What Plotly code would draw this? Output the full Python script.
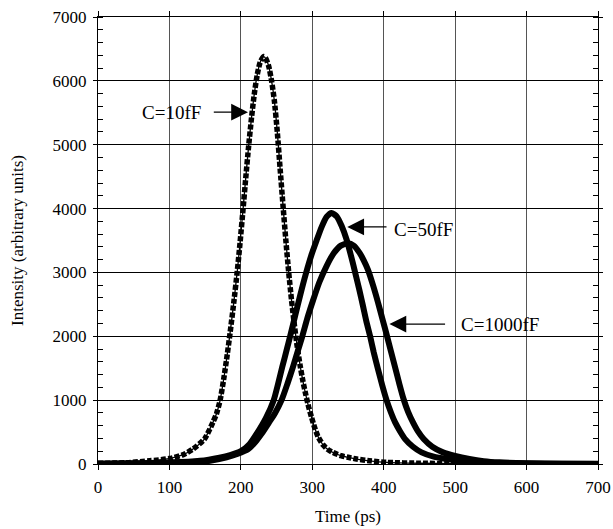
import plotly.graph_objects as go

# ---- data ----
t_10 = [0, 40, 72, 100, 120, 133, 149, 161, 166, 171, 176, 181, 185, 190, 195, 199,
        203, 207, 211, 215, 219, 223, 227, 232, 235, 239, 243, 247, 251, 255,
        259, 263, 267, 271, 275, 279, 283, 287, 291, 295, 299, 303, 308, 315, 322,
        329, 340, 350, 362, 380, 404, 450, 500, 600, 700]
i_10 = [10, 20, 50, 85, 150, 235, 390, 655, 790, 1000, 1330, 1720, 2060, 2520, 3020, 3480,
        3980, 4500, 4990, 5430, 5810, 6100, 6290, 6380, 6350, 6230, 6000, 5680, 5200, 4620,
        4050, 3500, 3000, 2560, 2170, 1830, 1540, 1290, 1080, 890, 730, 580, 430, 300, 225,
        180, 130, 105, 78, 50, 26, 12, 6, 2, 0]

t_50 = [0, 50, 100, 143, 170, 185, 200, 212, 222, 235, 246, 252, 258, 264, 269, 276, 283,
        291, 299, 306, 313, 320, 327, 334, 341, 348, 354, 360, 366, 371, 376, 381,
        386, 392, 398, 404, 410, 416, 423, 430, 441, 453, 470, 488, 510, 530, 560,
        600, 650, 700]
i_50 = [5, 10, 22, 50, 100, 140, 200, 310, 472, 720, 1000, 1250, 1522, 1780, 2000, 2320, 2640,
        2980, 3280, 3500, 3710, 3870, 3932, 3880, 3730, 3516, 3270, 3000, 2720, 2474, 2220, 2000,
        1750, 1484, 1230, 1000, 810, 651, 510, 391, 270, 182, 115, 78, 45, 26, 15,
        8, 3, 1]

t_1000 = [0, 50, 100, 130, 157, 180, 195, 210, 220, 229, 240, 248, 257, 265, 273, 280,
          286, 293, 301, 310, 320, 330, 340, 350, 358, 366, 372, 378, 385, 392, 398,
          404, 410, 416, 422, 428, 434, 441, 448, 456, 468, 483, 500, 520, 540, 562,
          600, 650, 700]
i_1000 = [5, 8, 18, 32, 52, 105, 157, 230, 340, 472, 660, 800, 1000, 1250, 1522, 1780,
          2000, 2280, 2560, 2850, 3100, 3300, 3420, 3455, 3420, 3310, 3190, 3040, 2800, 2530, 2280,
          2030, 1770, 1510, 1250, 1010, 820, 651, 510, 391, 270, 182, 125, 78, 45, 26,
          12, 5, 2]

labels = ["C=10fF", "C=50fF", "C=1000fF"]
x_ticks = [0, 100, 200, 300, 400, 500, 600, 700]
y_ticks = [0, 1000, 2000, 3000, 4000, 5000, 6000, 7000]

FONT = "Liberation Serif, Times New Roman, serif"

fig = go.Figure()
fig.add_trace(go.Scatter(x=t_1000, y=i_1000, mode="lines", name=labels[2],
                         line=dict(color="black", width=6, shape="spline", smoothing=0.6)))
fig.add_trace(go.Scatter(x=t_50, y=i_50, mode="lines", name=labels[1],
                         line=dict(color="black", width=6, shape="spline", smoothing=0.6)))
fig.add_trace(go.Scatter(x=t_10, y=i_10, mode="lines", name=labels[0],
                         line=dict(color="black", width=1.3, shape="spline", smoothing=0.6)))
fig.add_trace(go.Scatter(x=t_10, y=i_10, mode="lines", name=labels[0],
                         line=dict(color="black", width=5.5, dash="5px,2px",
                                   shape="spline", smoothing=0.6)))

# annotations: arrows and labels
arrows = [  # tip (x, y), tail (x, y)
    (210, 5510, 160, 5510),
    (349, 3713, 406, 3713),
    (408, 2192, 488, 2192),
]
for (x, y, ax, ay) in arrows:
    fig.add_annotation(x=x, y=y, ax=ax, ay=ay, xref="x", yref="y", axref="x", ayref="y",
                       text="", showarrow=True, arrowhead=2, arrowsize=2.8,
                       arrowwidth=1.2, arrowcolor="black", standoff=0, startstandoff=0)

text_pos = [  # x, y, anchor
    (146.6, 5505, "right"),
    (412, 3677, "left"),
    (505, 2184, "left"),
]
for lab, (x, y, anc) in zip(labels, text_pos):
    fig.add_annotation(x=x, y=y, xref="x", yref="y", text=lab, showarrow=False,
                       xanchor=anc, yanchor="middle",
                       font=dict(family=FONT, size=19, color="black"))

fig.update_layout(
    width=613, height=529,
    margin=dict(l=98, r=15, t=17, b=65, autoexpand=False),
    paper_bgcolor="white", plot_bgcolor="white",
    showlegend=False,
    font=dict(family=FONT, size=17, color="black"),
)
fig.update_xaxes(
    range=[0, 700], tickvals=x_ticks, ticktext=[str(v) for v in x_ticks],
    automargin=False,
    showgrid=True, gridcolor="#555555", gridwidth=1,
    showline=True, linecolor="black", linewidth=1, mirror="allticks",
    ticks="outside", ticklen=5, tickcolor="black", tickwidth=1,
    ticklabelstandoff=3,
    zeroline=False,
    tickfont=dict(family=FONT, size=17, color="black"),
    title=dict(text="Time (ps)", font=dict(family=FONT, size=17, color="black"), standoff=13),
)
fig.update_yaxes(
    range=[0, 7000], tickvals=y_ticks, ticktext=[str(v) for v in y_ticks],
    automargin=False,
    showgrid=True, gridcolor="black", gridwidth=1,
    showline=True, linecolor="black", linewidth=1, mirror="allticks",
    ticks="outside", ticklen=4, tickcolor="black", tickwidth=1,
    ticklabelstandoff=3,
    minor=dict(dtick=200, ticks="inside", ticklen=5, tickcolor="black", showgrid=False),
    zeroline=False,
    tickfont=dict(family=FONT, size=17, color="black"),
    title=dict(text="Intensity (arbitrary units)", font=dict(family=FONT, size=17, color="black"), standoff=24),
)

fig.write_html("out.html")
